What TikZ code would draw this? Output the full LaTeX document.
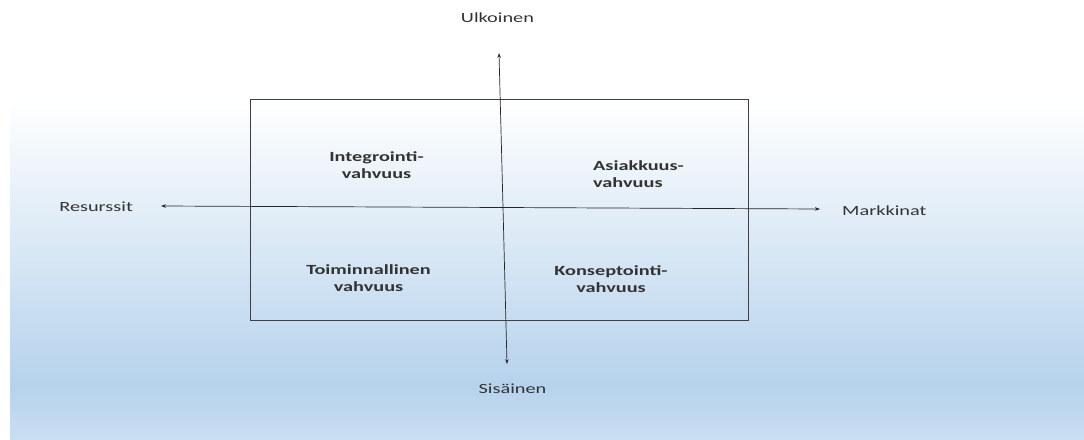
\documentclass[tikz,border=0pt]{standalone}
\usepackage{fontspec}
\setmainfont{Carlito}[FakeStretch=1.45]
\usetikzlibrary{arrows.meta}
\definecolor{skyblue}{RGB}{182,210,236}
\definecolor{paleblue}{RGB}{202,222,241}

\begin{document}
\begin{tikzpicture}[x=1pt,y=-1pt]
\tikzstyle{every node}+=[inner sep=0pt,text=black!80,font=\fontsize{14}{16}\selectfont]
\tikzstyle{axis}=[black!85,line width=0.7pt,-{Stealth[length=5pt,width=3.5pt]}]
\tikzstyle{quad}=[font=\fontsize{14}{17.5}\selectfont\bfseries,align=center]
\useasboundingbox (0,0) rectangle (1084,439);
% background
\fill [white] (0,0) rectangle (1084,439);
\shade [top color=white,bottom color=skyblue] (10,100) rectangle (1084,385);
\shade [top color=skyblue,bottom color=paleblue] (10,385) rectangle (1084,439);
% frame
\draw [black!75,line width=0.6pt] (250,99) rectangle (748,320);
% axis ends
\coordinate (top) at (499,53);
\coordinate (bot) at (507,364);
\coordinate (lft) at (161,206);
\coordinate (rgt) at (820,209);
\coordinate (mid) at (503,207.5);
\draw [axis] (mid) -- (top);
\draw [axis] (mid) -- (bot);
\draw [axis] (mid) -- (lft);
\draw [axis] (mid) -- (rgt);
% axis labels
\node (ulk) at (497.5,18) {Ulkoinen};
\node (sis) at (512.5,389) {Sisäinen};
\node [anchor=east] (res) at (133,207) {Resurssit};
\node [anchor=west] (mar) at (842,211) {Markkinat};
% quadrants
\node [quad] (int) at (376.5,165) {Integrointi-\\vahvuus};
\node [quad,align=left] (asi) at (638.5,174) {Asiakkuus-\\vahvuus};
\node [quad] (toi) at (368.5,278) {Toiminnallinen\\vahvuus};
\node [quad] (kon) at (611,279) {Konseptointi-\\vahvuus};
\end{tikzpicture}
\end{document}
